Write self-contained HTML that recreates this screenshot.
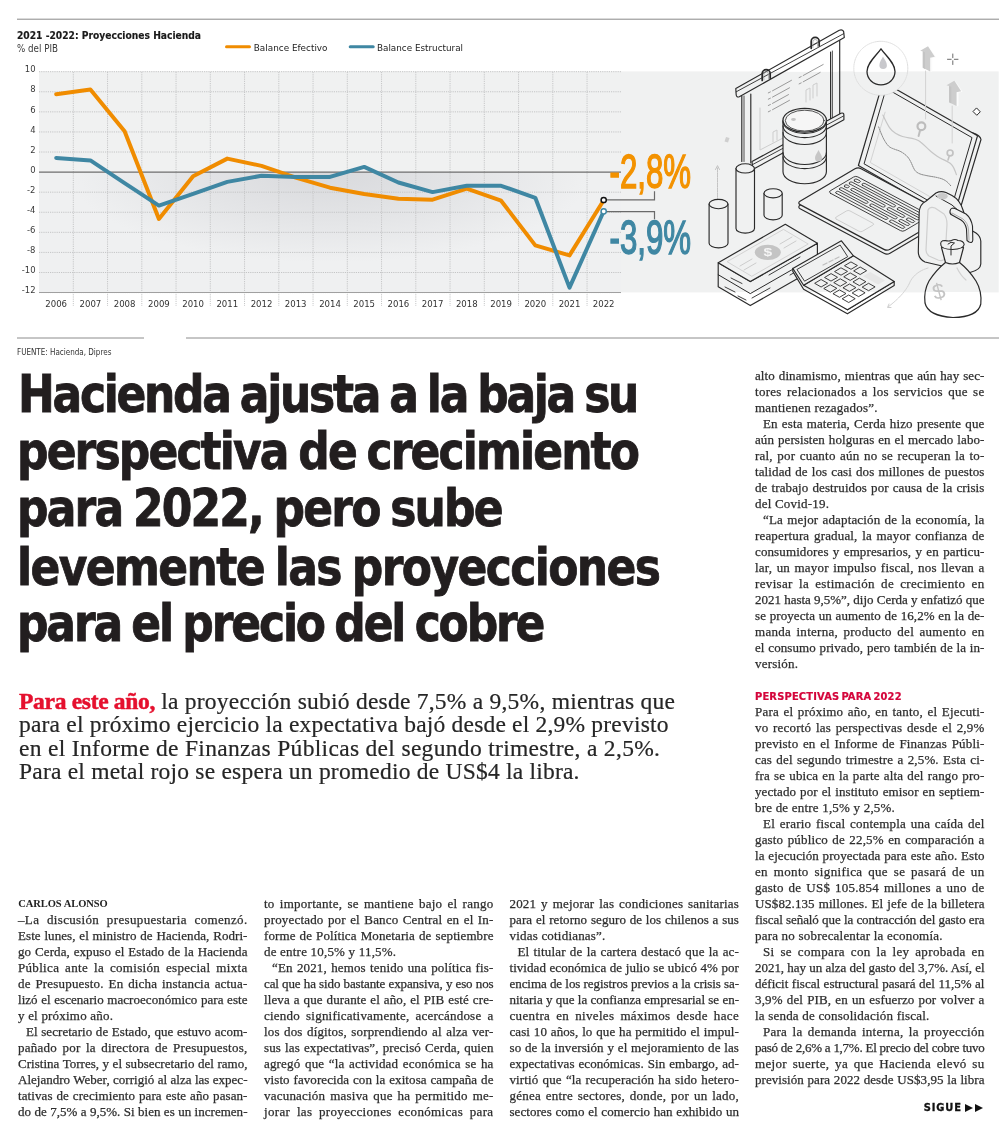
<!DOCTYPE html>
<html><head><meta charset="utf-8"><title>Hacienda</title><style>
*{margin:0;padding:0;box-sizing:border-box}
html,body{width:1000px;height:1145px;overflow:hidden;background:#fff}
body{position:relative}
.chart{position:absolute;left:0;top:0}
.hl{position:absolute;white-space:nowrap;font:bold 52px 'DejaVu Sans Condensed', 'DejaVu Sans', sans-serif;line-height:52px;color:#221e1f;-webkit-text-stroke:0.8px #221e1f;word-spacing:-3.0px;transform:scaleX(0.94);transform-origin:0 0}
.deck{position:absolute;white-space:nowrap;font:23.50px 'Liberation Serif', 'DejaVu Serif', serif;line-height:27.025px;color:#262626;-webkit-text-stroke:0.2px #262626}
.deck .red{color:#e5102e;font-weight:bold;letter-spacing:-0.30px;-webkit-text-stroke:0.5px #e5102e}
.bj,.bl{position:absolute;white-space:nowrap;font:13.00px 'Liberation Serif', 'DejaVu Serif', serif;line-height:16px;color:#2e2e2e;-webkit-text-stroke:0.25px #2e2e2e}
.bj{text-align:justify;text-align-last:justify}
.bl{text-align:left}
.byline{position:absolute;left:18.2px;top:898px;font:bold 10.5px 'Liberation Serif', 'DejaVu Serif', serif;color:#222;letter-spacing:-0.05px;line-height:12px;white-space:nowrap}
.fuente{position:absolute;left:17px;top:347.6px;font:8px 'DejaVu Sans Condensed', 'DejaVu Sans', sans-serif;color:#333;letter-spacing:0px;white-space:nowrap;line-height:9px}
.sub{position:absolute;left:755px;top:691.2px;font:bold 11px 'DejaVu Sans Condensed', 'DejaVu Sans', sans-serif;color:#d4053b;white-space:nowrap;line-height:12px;letter-spacing:0.18px;word-spacing:-1.5px;-webkit-text-stroke:0.2px #d4053b}
.sigue{position:absolute;left:923.8px;top:1102px;font:bold 11px 'DejaVu Sans Condensed', 'DejaVu Sans', sans-serif;color:#111;white-space:nowrap;line-height:12px;letter-spacing:0.85px;-webkit-text-stroke:0.3px #111}
.tri{position:absolute;top:1103.5px;width:0;height:0;border-top:4px solid transparent;border-bottom:4px solid transparent;border-left:8.5px solid #111}
</style></head><body>
<svg class="chart" width="1000" height="345" viewBox="0 0 1000 345">
<defs>
<radialGradient id="neg" cx="0.5" cy="0" r="0.75" gradientTransform="translate(0.5 0) scale(0.6 1) translate(-0.5 0)">
<stop offset="0" stop-color="#d8d9dc"/><stop offset="0.55" stop-color="#e4e5e7"/><stop offset="1" stop-color="#eff0f1"/>
</radialGradient>
</defs>
<rect x="39" y="71.4" width="959.7" height="221" fill="#f0f1f1"/>
<rect x="39" y="172" width="582" height="120.5" fill="url(#neg)"/>
<line x1="17" y1="19.2" x2="999" y2="19.2" stroke="#888" stroke-width="1"/>
<line x1="17" y1="338" x2="144" y2="338" stroke="#8c8c8c" stroke-width="1"/>
<line x1="186" y1="338" x2="999" y2="338" stroke="#8c8c8c" stroke-width="1"/>
<line x1="39" y1="71.70" x2="621" y2="71.70" stroke="#c4c5c6" stroke-width="1" stroke-dasharray="1.2 1"/>
<line x1="39" y1="91.78" x2="621" y2="91.78" stroke="#c4c5c6" stroke-width="1" stroke-dasharray="1.2 1"/>
<line x1="39" y1="111.86" x2="621" y2="111.86" stroke="#c4c5c6" stroke-width="1" stroke-dasharray="1.2 1"/>
<line x1="39" y1="131.94" x2="621" y2="131.94" stroke="#c4c5c6" stroke-width="1" stroke-dasharray="1.2 1"/>
<line x1="39" y1="152.02" x2="621" y2="152.02" stroke="#c4c5c6" stroke-width="1" stroke-dasharray="1.2 1"/>
<line x1="39" y1="192.18" x2="621" y2="192.18" stroke="#c4c5c6" stroke-width="1" stroke-dasharray="1.2 1"/>
<line x1="39" y1="212.26" x2="621" y2="212.26" stroke="#c4c5c6" stroke-width="1" stroke-dasharray="1.2 1"/>
<line x1="39" y1="232.34" x2="621" y2="232.34" stroke="#c4c5c6" stroke-width="1" stroke-dasharray="1.2 1"/>
<line x1="39" y1="252.42" x2="621" y2="252.42" stroke="#c4c5c6" stroke-width="1" stroke-dasharray="1.2 1"/>
<line x1="39" y1="272.50" x2="621" y2="272.50" stroke="#c4c5c6" stroke-width="1" stroke-dasharray="1.2 1"/>
<line x1="39" y1="292.58" x2="621" y2="292.58" stroke="#c4c5c6" stroke-width="1" stroke-dasharray="1.2 1"/>
<line x1="73.30" y1="72" x2="73.30" y2="306" stroke="#c6c7c8" stroke-width="1" stroke-dasharray="1.2 1"/>
<line x1="107.55" y1="72" x2="107.55" y2="306" stroke="#c6c7c8" stroke-width="1" stroke-dasharray="1.2 1"/>
<line x1="141.80" y1="72" x2="141.80" y2="306" stroke="#c6c7c8" stroke-width="1" stroke-dasharray="1.2 1"/>
<line x1="176.05" y1="72" x2="176.05" y2="306" stroke="#c6c7c8" stroke-width="1" stroke-dasharray="1.2 1"/>
<line x1="210.30" y1="72" x2="210.30" y2="306" stroke="#c6c7c8" stroke-width="1" stroke-dasharray="1.2 1"/>
<line x1="244.55" y1="72" x2="244.55" y2="306" stroke="#c6c7c8" stroke-width="1" stroke-dasharray="1.2 1"/>
<line x1="278.80" y1="72" x2="278.80" y2="306" stroke="#c6c7c8" stroke-width="1" stroke-dasharray="1.2 1"/>
<line x1="313.05" y1="72" x2="313.05" y2="306" stroke="#c6c7c8" stroke-width="1" stroke-dasharray="1.2 1"/>
<line x1="347.30" y1="72" x2="347.30" y2="306" stroke="#c6c7c8" stroke-width="1" stroke-dasharray="1.2 1"/>
<line x1="381.55" y1="72" x2="381.55" y2="306" stroke="#c6c7c8" stroke-width="1" stroke-dasharray="1.2 1"/>
<line x1="415.80" y1="72" x2="415.80" y2="306" stroke="#c6c7c8" stroke-width="1" stroke-dasharray="1.2 1"/>
<line x1="450.05" y1="72" x2="450.05" y2="306" stroke="#c6c7c8" stroke-width="1" stroke-dasharray="1.2 1"/>
<line x1="484.30" y1="72" x2="484.30" y2="306" stroke="#c6c7c8" stroke-width="1" stroke-dasharray="1.2 1"/>
<line x1="518.55" y1="72" x2="518.55" y2="306" stroke="#c6c7c8" stroke-width="1" stroke-dasharray="1.2 1"/>
<line x1="552.80" y1="72" x2="552.80" y2="306" stroke="#c6c7c8" stroke-width="1" stroke-dasharray="1.2 1"/>
<line x1="587.05" y1="72" x2="587.05" y2="306" stroke="#c6c7c8" stroke-width="1" stroke-dasharray="1.2 1"/>
<line x1="39" y1="172.1" x2="621" y2="172.1" stroke="#6e6e6e" stroke-width="1.3"/>
<line x1="39" y1="292.5" x2="621" y2="292.5" stroke="#a0a0a0" stroke-width="1"/>
<text x="35.5" y="72.3" text-anchor="end" font-family="DejaVu Sans Condensed, DejaVu Sans, sans-serif" font-size="9.4" fill="#3a3a3a">10</text>
<text x="35.5" y="92.4" text-anchor="end" font-family="DejaVu Sans Condensed, DejaVu Sans, sans-serif" font-size="9.4" fill="#3a3a3a">8</text>
<text x="35.5" y="112.5" text-anchor="end" font-family="DejaVu Sans Condensed, DejaVu Sans, sans-serif" font-size="9.4" fill="#3a3a3a">6</text>
<text x="35.5" y="132.5" text-anchor="end" font-family="DejaVu Sans Condensed, DejaVu Sans, sans-serif" font-size="9.4" fill="#3a3a3a">4</text>
<text x="35.5" y="152.6" text-anchor="end" font-family="DejaVu Sans Condensed, DejaVu Sans, sans-serif" font-size="9.4" fill="#3a3a3a">2</text>
<text x="35.5" y="172.7" text-anchor="end" font-family="DejaVu Sans Condensed, DejaVu Sans, sans-serif" font-size="9.4" fill="#3a3a3a">0</text>
<text x="35.5" y="192.8" text-anchor="end" font-family="DejaVu Sans Condensed, DejaVu Sans, sans-serif" font-size="9.4" fill="#3a3a3a">-2</text>
<text x="35.5" y="212.9" text-anchor="end" font-family="DejaVu Sans Condensed, DejaVu Sans, sans-serif" font-size="9.4" fill="#3a3a3a">-4</text>
<text x="35.5" y="232.9" text-anchor="end" font-family="DejaVu Sans Condensed, DejaVu Sans, sans-serif" font-size="9.4" fill="#3a3a3a">-6</text>
<text x="35.5" y="253.0" text-anchor="end" font-family="DejaVu Sans Condensed, DejaVu Sans, sans-serif" font-size="9.4" fill="#3a3a3a">-8</text>
<text x="35.5" y="273.1" text-anchor="end" font-family="DejaVu Sans Condensed, DejaVu Sans, sans-serif" font-size="9.4" fill="#3a3a3a">-10</text>
<text x="35.5" y="293.2" text-anchor="end" font-family="DejaVu Sans Condensed, DejaVu Sans, sans-serif" font-size="9.4" fill="#3a3a3a">-12</text>
<text x="56.2" y="307.3" text-anchor="middle" font-family="DejaVu Sans Condensed, DejaVu Sans, sans-serif" font-size="9.5" fill="#333">2006</text>
<text x="90.4" y="307.3" text-anchor="middle" font-family="DejaVu Sans Condensed, DejaVu Sans, sans-serif" font-size="9.5" fill="#333">2007</text>
<text x="124.6" y="307.3" text-anchor="middle" font-family="DejaVu Sans Condensed, DejaVu Sans, sans-serif" font-size="9.5" fill="#333">2008</text>
<text x="158.9" y="307.3" text-anchor="middle" font-family="DejaVu Sans Condensed, DejaVu Sans, sans-serif" font-size="9.5" fill="#333">2009</text>
<text x="193.1" y="307.3" text-anchor="middle" font-family="DejaVu Sans Condensed, DejaVu Sans, sans-serif" font-size="9.5" fill="#333">2010</text>
<text x="227.3" y="307.3" text-anchor="middle" font-family="DejaVu Sans Condensed, DejaVu Sans, sans-serif" font-size="9.5" fill="#333">2011</text>
<text x="261.5" y="307.3" text-anchor="middle" font-family="DejaVu Sans Condensed, DejaVu Sans, sans-serif" font-size="9.5" fill="#333">2012</text>
<text x="295.7" y="307.3" text-anchor="middle" font-family="DejaVu Sans Condensed, DejaVu Sans, sans-serif" font-size="9.5" fill="#333">2013</text>
<text x="330.0" y="307.3" text-anchor="middle" font-family="DejaVu Sans Condensed, DejaVu Sans, sans-serif" font-size="9.5" fill="#333">2014</text>
<text x="364.2" y="307.3" text-anchor="middle" font-family="DejaVu Sans Condensed, DejaVu Sans, sans-serif" font-size="9.5" fill="#333">2015</text>
<text x="398.4" y="307.3" text-anchor="middle" font-family="DejaVu Sans Condensed, DejaVu Sans, sans-serif" font-size="9.5" fill="#333">2016</text>
<text x="432.6" y="307.3" text-anchor="middle" font-family="DejaVu Sans Condensed, DejaVu Sans, sans-serif" font-size="9.5" fill="#333">2017</text>
<text x="466.8" y="307.3" text-anchor="middle" font-family="DejaVu Sans Condensed, DejaVu Sans, sans-serif" font-size="9.5" fill="#333">2018</text>
<text x="501.1" y="307.3" text-anchor="middle" font-family="DejaVu Sans Condensed, DejaVu Sans, sans-serif" font-size="9.5" fill="#333">2019</text>
<text x="535.3" y="307.3" text-anchor="middle" font-family="DejaVu Sans Condensed, DejaVu Sans, sans-serif" font-size="9.5" fill="#333">2020</text>
<text x="569.5" y="307.3" text-anchor="middle" font-family="DejaVu Sans Condensed, DejaVu Sans, sans-serif" font-size="9.5" fill="#333">2021</text>
<text x="603.7" y="307.3" text-anchor="middle" font-family="DejaVu Sans Condensed, DejaVu Sans, sans-serif" font-size="9.5" fill="#333">2022</text>
<polyline points="56.2,94.2 90.4,89.5 124.6,131.2 158.9,219.0 193.1,176.2 227.3,158.6 261.5,165.9 295.7,177.7 330.0,187.7 364.2,194.0 398.4,198.8 432.6,199.7 466.8,188.7 501.1,200.7 535.3,245.4 569.5,255.4 603.7,200.2" fill="none" stroke="#f08c00" stroke-width="4" stroke-linejoin="round" stroke-linecap="round"/>
<polyline points="56.2,157.9 90.4,160.4 124.6,183.1 158.9,205.6 193.1,193.8 227.3,181.9 261.5,175.8 295.7,176.9 330.0,176.9 364.2,166.9 398.4,182.5 432.6,192.1 466.8,185.8 501.1,185.8 535.3,197.8 569.5,287.6 603.7,211.3" fill="none" stroke="#3f87a3" stroke-width="4" stroke-linejoin="round" stroke-linecap="round"/>
<polyline points="606,199.8 654.5,199.8 654.5,191.2" fill="none" stroke="#6a6a6a" stroke-width="1.2"/>
<polyline points="606,211.6 654.5,211.6 654.5,219.2" fill="none" stroke="#6a6a6a" stroke-width="1.2"/>
<circle cx="603.7" cy="200" r="2.6" fill="#fff" stroke="#111" stroke-width="1.5"/>
<circle cx="603.7" cy="211.3" r="2.6" fill="#fff" stroke="#3f87a3" stroke-width="1.5"/>
<text x="17" y="39.4" font-family="DejaVu Sans Condensed, DejaVu Sans, sans-serif" font-weight="bold" font-size="10.4" fill="#1a1a1a" stroke="#1a1a1a" stroke-width="0.15" textLength="184" lengthAdjust="spacingAndGlyphs">2021 -2022: Proyecciones Hacienda</text>
<text x="17" y="52.3" font-family="DejaVu Sans Condensed, DejaVu Sans, sans-serif" font-size="9.6" fill="#3a3a3a" textLength="41" lengthAdjust="spacingAndGlyphs">% del PIB</text>
<line x1="226.5" y1="46.8" x2="249.5" y2="46.8" stroke="#f08c00" stroke-width="3" stroke-linecap="round"/>
<text x="253.8" y="50.5" font-family="DejaVu Sans Condensed, DejaVu Sans, sans-serif" font-size="9.4" fill="#222" textLength="73.7" lengthAdjust="spacingAndGlyphs">Balance Efectivo</text>
<line x1="350.2" y1="46.8" x2="373.2" y2="46.8" stroke="#3f87a3" stroke-width="3" stroke-linecap="round"/>
<text x="377" y="50.5" font-family="DejaVu Sans Condensed, DejaVu Sans, sans-serif" font-size="9.4" fill="#222" textLength="86" lengthAdjust="spacingAndGlyphs">Balance Estructural</text>
<text x="609.5" y="187.6" font-family="Liberation Sans, sans-serif" font-size="48.5" fill="#f39200" stroke="#f39200" stroke-width="1.5" textLength="81.5" lengthAdjust="spacingAndGlyphs">-2,8%</text>
<text x="609.5" y="254.2" font-family="Liberation Sans, sans-serif" font-size="48.5" fill="#3f87a3" stroke="#3f87a3" stroke-width="1.5" textLength="81.5" lengthAdjust="spacingAndGlyphs">-3,9%</text>
<defs><linearGradient id="bgf" gradientUnits="userSpaceOnUse" x1="0" y1="0" x2="0" y2="345"><stop offset="0" stop-color="#fff"/><stop offset="0.2072" stop-color="#fff"/><stop offset="0.2075" stop-color="#f0f1f1"/><stop offset="0.8475" stop-color="#f0f1f1"/><stop offset="0.8478" stop-color="#fff"/><stop offset="1" stop-color="#fff"/></linearGradient></defs>
<g fill="url(#bgf)" stroke="#2a2a2a" stroke-width="1.15" stroke-linejoin="round" stroke-linecap="round">
<polygon points="744,96 838,43 838,116 751,163" stroke="none"/>
<g fill="none" stroke="#cdcdcd" stroke-width="1"><polyline points="760,108 760,150 783,138"/><polyline points="773,142 773,132 777,130 777,140"/><polyline points="806,102 806,90 810,88 810,100"/><polyline points="813,98 813,85 817,83 817,96"/></g>
<g fill="none" stroke="#9a9a9a" stroke-width="1">
<line x1="768.3" y1="92.9" x2="770.4" y2="91.9"/>
<line x1="772.5" y1="90.8" x2="791.5" y2="80.3"/>
<line x1="768.3" y1="99.2" x2="770.4" y2="98.2"/>
<line x1="772.5" y1="97.1" x2="789.5" y2="87.8"/>
<line x1="768.3" y1="105.5" x2="770.4" y2="104.5"/>
<line x1="772.5" y1="103.4" x2="788.5" y2="94.6"/>
<line x1="768.3" y1="111.8" x2="770.4" y2="110.8"/>
<line x1="772.5" y1="109.7" x2="789.5" y2="100.3"/>
<line x1="799.1" y1="77.6" x2="801.2" y2="76.6"/>
<line x1="803.2" y1="75.5" x2="823.2" y2="64.5"/>
<line x1="799.1" y1="83.9" x2="801.2" y2="82.9"/>
<line x1="803.2" y1="81.8" x2="820.2" y2="72.4"/>
</g>
<line x1="741.8" y1="96" x2="741.8" y2="161.5"/>
<line x1="744" y1="96" x2="744" y2="161.5" stroke-width="0.8"/>
<line x1="750.8" y1="94" x2="750.8" y2="163"/>
<line x1="830.6" y1="52" x2="830.6" y2="120"/>
<line x1="832.4" y1="51" x2="832.4" y2="119" stroke-width="0.8"/>
<line x1="839.7" y1="40" x2="839.7" y2="114.5"/>
<path d="M752,161.5 L841,113.2 Q843.8,112.5 843.9,115 L843.9,119.8 L755,168.2 Q752.6,169 752.5,166.5 Z"/>
<line x1="752.5" y1="164.6" x2="843.5" y2="116" stroke-width="0.9"/>
<path d="M735.8,88.6 L839.3,30.2 Q842.2,29 843.6,31.4 L844.3,37.5 L739.3,96.8 Q736.5,97.6 736.2,95 Z"/>
<line x1="736.2" y1="91.8" x2="843.8" y2="33.6" stroke-width="0.9"/>
<path d="M762.2,80.5 V73.6 A4,4 0 0 1 770.2,73.6 V78.2" fill="none" stroke-width="1.7"/>
<path d="M811.2,48.3 V41.4 A4,4 0 0 1 819.2,41.4 V46" fill="none" stroke-width="1.7"/>
<path d="M763.9,80 V74 A2.3,2.3 0 0 1 768.5,74 V78.6" fill="none" stroke="#999" stroke-width="0.7"/>
<path d="M812.9,47.8 V41.8 A2.3,2.3 0 0 1 817.5,41.8 V46.4" fill="none" stroke="#999" stroke-width="0.7"/>
<polygon points="928.4,45.6 936.2,57.2 932.2,58.2 932.2,71.2 930.4,72.0 930.4,57.2 934.6,56.6" fill="#fbfbfb" stroke="none"/>
<polygon points="928.0,46.2 920.2,50.8 922.8,51.6 922.8,67.8 930.2,71.4 930.2,57.7 934.8,56.8" fill="#cdcdcd" stroke="none"/>
<polygon points="922.8,51.6 922.8,67.8 925.0,68.9 925.0,52.2" fill="#c4c4c4" stroke="none"/>
<polygon points="954.7,80.1 962.5,91.7 958.5,92.7 958.5,105.7 956.7,106.5 956.7,91.7 960.9,91.1" fill="#fbfbfb" stroke="none"/>
<polygon points="954.3,80.7 946.5,85.3 949.1,86.1 949.1,102.3 956.5,105.9 956.5,92.2 961.1,91.3" fill="#cdcdcd" stroke="none"/>
<polygon points="949.1,86.1 949.1,102.3 951.3,103.4 951.3,86.7" fill="#c4c4c4" stroke="none"/>
<g stroke="#5a5a5a" stroke-width="0.9"><line x1="947.5" y1="59.3" x2="951.2" y2="59.3"/><line x1="954.3" y1="59.3" x2="958" y2="59.3"/><line x1="952.8" y1="54" x2="952.8" y2="57.7"/><line x1="952.8" y1="60.8" x2="952.8" y2="64.5"/></g>
<polygon points="976.8,108.2 980.3,111.8 976.8,115.3 973.3,111.8" fill="#fff" stroke-width="1"/>
<polygon points="726,137 729.5,138 728,142.5 724.5,141.5" fill="#cfcfcf" stroke="none"/>
<path d="M972,132.6 Q980.5,135.5 981,139.5 L958.6,214 L952,220" stroke-width="1.15"/>
<polygon points="883.0,81.7 977.5,135.8 952.9,219.6 858.4,165.5" stroke-width="1.2"/>
<polygon points="886.5,88.6 972.0,137.6 949.9,213.0 864.4,164.0" fill="none" stroke-width="1"/>
<polyline points="885.1,112.2 870.3,162.5 945.9,205.8" fill="none" stroke="#cfcfcf" stroke-width="0.9"/>
<path d="M882.9,115.1 Q887.0,124.0 889.5,127.6 Q892.0,131.2 895.5,133.3 Q899.0,135.5 902.5,136.5 Q906.0,137.5 909.0,137.8 Q912.0,138.2 915.3,139.2 Q918.6,140.3 920.8,142.2 Q923.0,144.0 925.7,146.7 Q928.4,149.4 931.2,151.7 Q934.0,154.0 936.8,155.9 Q939.6,157.8 942.3,159.1 Q945.0,160.3 947.9,161.9 Q950.8,163.4 952.4,165.7 Q954.0,168.0 955.2,171.3 L956.4,174.6" fill="none" stroke="#c6c6c6" stroke-width="1.2"/>
<path d="M878.7,127.0 Q882.0,136.0 884.2,139.9 Q886.4,143.8 888.2,145.7 Q890.0,147.5 892.4,148.4 Q894.8,149.4 897.4,150.2 Q900.0,151.0 903.0,153.0 Q906.0,155.0 907.5,156.8 Q909.0,158.5 910.3,160.9 Q911.6,163.4 912.5,165.7 Q913.5,168.0 914.6,169.9 Q915.8,171.8 918.4,173.2 Q921.0,174.5 924.7,175.2 Q928.4,176.0 931.7,176.5 Q935.0,177.0 938.7,177.9 Q942.4,178.8 944.7,180.2 Q947.0,181.5 948.9,183.7 L950.8,185.8" fill="none" stroke="#6e6e6e" stroke-width="0.9" stroke-dasharray="0.9 1.1"/>
<circle cx="880.8" cy="68.3" r="27" fill="url(#bgf)" stroke="#dadada" stroke-width="0.9" stroke-dasharray="1.2 1"/>
<path d="M881,48.8 C876,56 867,63 867,71.5 A14,13.4 0 0 0 895,71.5 C895,63 886,56 881,48.8 Z" fill="url(#bgf)" stroke-width="1.3"/>
<path d="M883,56.6 C881.5,59.5 879.4,62.3 879.4,65.2 A3.75,3.8 0 0 0 886.9,65.2 C886.9,62.3 884.5,59.5 883,56.6 Z" fill="#c8c8cc" stroke="none"/>
<line x1="925.6" y1="71" x2="925.6" y2="119" stroke="#d2d2d2" stroke-width="1"/>
<line x1="952.2" y1="106" x2="952.2" y2="143" stroke="#d2d2d2" stroke-width="1"/>
<circle cx="921.4" cy="126.3" r="3.9" fill="none" stroke="#bdbdbd" stroke-width="2.2"/><line x1="920" y1="130.5" x2="918.6" y2="136" stroke="#bdbdbd" stroke-width="2"/>
<circle cx="950.1" cy="152.9" r="2.9" fill="none" stroke="#c2c2c2" stroke-width="1.7"/><line x1="949.3" y1="156" x2="948" y2="160" stroke="#c2c2c2" stroke-width="1.6"/>
<path d="M783.0,120.2 L783.0,171.8 A21.7,11.9 0 0 0 826.4,171.8 L826.4,120.2 Z"/>
<path d="M783.0,121.5 A21.7,11.9 0 0 0 826.4,121.5" fill="none" stroke-width="1.05"/>
<path d="M783.0,125.7 A21.7,11.9 0 0 0 826.4,125.7" fill="none" stroke-width="1.05"/>
<path d="M783.0,132.6 A21.7,11.9 0 0 0 826.4,132.6" fill="none" stroke-width="1.05"/>
<path d="M783.0,152.6 A21.7,11.9 0 0 0 826.4,152.6" fill="none" stroke-width="1.05"/>
<path d="M783.0,156.7 A21.7,11.9 0 0 0 826.4,156.7" fill="none" stroke-width="1.05"/>
<ellipse cx="804.7" cy="120.2" rx="21.7" ry="11.9" stroke-width="1.2"/>
<ellipse cx="804.7" cy="120.6" rx="19.4" ry="10.4" fill="#f6f6f6" stroke-width="0.8"/>
<ellipse cx="793.5" cy="119.5" rx="2.4" ry="1.4" fill="#c4c4c4" stroke="none"/>
<path d="M818.5,150 C817,153 815,155.5 815,158 A3.5,3.5 0 0 0 822,158 C822,155.5 820,153 818.5,150 Z" fill="#c6c6c6" stroke="none"/>
<rect x="0" y="0" width="102.0" height="70.8" rx="3.5" transform="matrix(0.8824 0.4706 0.8612 -0.5083 797.00 207.00)" fill="#f0f1f1" stroke-width="1.15" vector-effect="non-scaling-stroke"/>
<rect x="0" y="0" width="102.0" height="70.8" rx="3.5" transform="matrix(0.8824 0.4706 0.8612 -0.5083 797.00 203.00)" fill="#f0f1f1" stroke-width="1.2" vector-effect="non-scaling-stroke"/>
<g transform="matrix(0.8824 0.4706 0.8612 -0.5083 797.00 203.00)" fill="none">
<rect x="7.5" y="28.5" width="84.5" height="32" rx="2.5" stroke-width="0.9" vector-effect="non-scaling-stroke"/>
<rect x="10.5" y="54.5" width="6.0" height="3.1" rx="1.4" stroke-width="0.85" vector-effect="non-scaling-stroke"/>
<rect x="19.5" y="54.5" width="69.5" height="3.1" rx="1.4" stroke-width="0.85" vector-effect="non-scaling-stroke"/>
<rect x="10.5" y="48.8" width="51.5" height="3.1" rx="1.4" stroke-width="0.85" vector-effect="non-scaling-stroke"/>
<rect x="65.0" y="48.8" width="24.0" height="3.1" rx="1.4" stroke-width="0.85" vector-effect="non-scaling-stroke"/>
<rect x="10.5" y="43.1" width="4.5" height="3.1" rx="1.4" stroke-width="0.85" vector-effect="non-scaling-stroke"/>
<rect x="18.0" y="43.1" width="38.0" height="3.1" rx="1.4" stroke-width="0.85" vector-effect="non-scaling-stroke"/>
<rect x="59.0" y="43.1" width="19.0" height="3.1" rx="1.4" stroke-width="0.85" vector-effect="non-scaling-stroke"/>
<rect x="81.0" y="43.1" width="8.0" height="3.1" rx="1.4" stroke-width="0.85" vector-effect="non-scaling-stroke"/>
<rect x="10.5" y="37.4" width="31.5" height="3.1" rx="1.4" stroke-width="0.85" vector-effect="non-scaling-stroke"/>
<rect x="45.0" y="37.4" width="30.0" height="3.1" rx="1.4" stroke-width="0.85" vector-effect="non-scaling-stroke"/>
<rect x="78.0" y="37.4" width="11.0" height="3.1" rx="1.4" stroke-width="0.85" vector-effect="non-scaling-stroke"/>
<rect x="12.0" y="31.7" width="58.0" height="3.1" rx="1.4" stroke-width="0.85" vector-effect="non-scaling-stroke"/>
<rect x="73.0" y="31.7" width="16.0" height="3.1" rx="1.4" stroke-width="0.85" vector-effect="non-scaling-stroke"/>
<rect x="37.5" y="5" width="30" height="16" rx="2" stroke="#cacaca" stroke-width="0.9" vector-effect="non-scaling-stroke"/>
</g>
<path d="M736.0,168.4 L736.0,228.5 A9.2,4.6 0 0 0 754.5,228.5 L754.5,168.4 Z"/>
<ellipse cx="745.2" cy="168.4" rx="9.2" ry="4.6"/>
<path d="M764.0,193.3 L764.0,215.2 A9.1,4.6 0 0 0 782.2,215.2 L782.2,193.3 Z"/>
<ellipse cx="773.1" cy="193.3" rx="9.1" ry="4.6"/>
<line x1="717.5" y1="168" x2="717.5" y2="199" stroke="#c2c2c2" stroke-width="1" stroke-dasharray="1.5 1"/>
<polyline points="715.5,169.5 717.5,165.6 719.5,169.5" fill="none" stroke="#c2c2c2" stroke-width="1"/>
<path d="M709.1,204.0 L709.1,243.2 A9.4,4.7 0 0 0 728.0,243.2 L728.0,204.0 Z"/>
<ellipse cx="718.5" cy="204.0" rx="9.4" ry="4.7"/>
<path d="M925.5,201.5 Q920,204 919.2,212 L918.3,252 Q918.5,259 925,262 L970,272.5 Q980.5,270 980.8,264 L980.8,241 Q980.3,236 976,233 L969,229 L963,210 Q960,200 952,195.5 L946,192.5 Q941,190.5 936,193 Z" stroke-width="1.15"/>
<path d="M928,210 Q930,206 935,208 L944,214 Q947,218 947,224 L945,258 Q943,262 938,260 L929,256 Q926,254 926,250 Z" fill="none" stroke="#cfcfcf" stroke-width="1.2"/>
<path d="M936,196 L952,205 Q958,209 962,216" fill="none" stroke-width="1"/>
<ellipse cx="942.4" cy="196.2" rx="5.3" ry="3.3" fill="#c9c9c9" stroke="none"/>
<path d="M950,211 Q951,207 955,208.5 L966,214 Q971,218 972.5,226 L972.8,240 Q972.5,243.5 969,242 L967,240.5 L966.5,229 Q965.5,223 961,220 L952,215 Q949.5,214 950,211 Z" stroke-width="1.1"/>
<path d="M952,213 L963,219 Q968,223 968.5,230 L969,240" fill="none" stroke="#9a9a9a" stroke-width="0.8"/>
<path d="M718.2,262.7 L750.3,281.6 L817.4,243.2 L817.4,267.2 L750.3,305.6 L718.2,286.7 Z" stroke-width="1.15"/>
<polygon points="718.2,262.7 785.3,224.3 817.4,243.2 750.3,281.6" stroke-width="1.15"/>
<polyline points="718.2,274.7 750.3,293.6 817.4,255.2" fill="none" stroke-width="1"/>
<g fill="none" stroke-width="0.9"><line x1="731" y1="278" x2="742" y2="283.5"/><line x1="725" y1="287" x2="735" y2="292"/><line x1="738" y1="296" x2="746" y2="300"/><line x1="769" y1="275" x2="800" y2="257"/><line x1="752" y1="298" x2="770" y2="288"/><line x1="790" y1="275" x2="808" y2="265"/></g>
<polygon points="727.4,261.9 751.8,276.3 808.2,244.0 783.8,229.6" fill="none" stroke="#cfcfcf" stroke-width="0.9"/>
<ellipse cx="767.8" cy="252.3" rx="13" ry="7.6" fill="#c4c4c4" stroke="none"/>
<text x="767.8" y="256.6" text-anchor="middle" font-family="Liberation Sans, sans-serif" font-weight="bold" font-size="12.5" fill="#f4f4f4" stroke="none" transform="translate(767.8 252.3) scale(1.25 0.8) translate(-767.8 -252.3)">$</text>
<g stroke="#cdcdcd" stroke-width="1" fill="none"><line x1="740" y1="266" x2="752" y2="259"/><line x1="744" y1="270" x2="756" y2="263"/><line x1="780" y1="244" x2="792" y2="237"/><line x1="784" y1="248" x2="796" y2="241"/></g>
<path d="M792.8,268.4 L792.8,271.4 L803.6,289.2 L847.4,313.8 L894.2,285.6 L894.2,281.6 L847.4,309.8 Z" stroke-width="1.15"/>
<polygon points="803.6,285.2 853.4,255.8 894.2,281.6 847.4,309.8" stroke-width="1.15"/>
<polygon points="792.8,268.4 841.4,240.8 853.4,255.8 803.6,285.2" stroke-width="1.15"/>
<polygon points="797.3,269.3 840.1,245.0 847.7,256.7 804.9,281.0" fill="none" stroke-width="0.9"/>
<g stroke="#bdbdbd" stroke-width="1.2"><line x1="823" y1="265" x2="827" y2="263"/><line x1="829" y1="262" x2="833" y2="260"/><line x1="835" y1="259" x2="839" y2="257"/></g>
<polygon points="815.0,283.5 821.1,287.0 827.6,283.2 821.4,279.7" fill="none" stroke-width="0.9"/>
<polygon points="824.1,288.7 830.3,292.2 836.8,288.3 830.6,284.9" fill="none" stroke-width="0.9"/>
<polygon points="833.3,293.9 839.5,297.3 846.0,293.5 839.8,290.1" fill="none" stroke-width="0.9"/>
<polygon points="842.5,299.0 848.7,302.5 855.2,298.7 849.0,295.2" fill="none" stroke-width="0.9"/>
<polygon points="824.9,277.7 831.0,281.1 837.5,277.3 831.4,273.8" fill="none" stroke-width="0.9"/>
<polygon points="834.1,282.8 840.2,286.3 846.7,282.5 840.6,279.0" fill="none" stroke-width="0.9"/>
<polygon points="843.3,288.0 849.4,291.4 855.9,287.6 849.8,284.2" fill="none" stroke-width="0.9"/>
<polygon points="852.5,293.2 858.6,296.6 865.1,292.8 859.0,289.3" fill="none" stroke-width="0.9"/>
<polygon points="834.9,271.8 841.0,275.2 847.5,271.4 841.3,268.0" fill="none" stroke-width="0.9"/>
<polygon points="844.1,277.0 850.2,280.4 856.7,276.6 850.5,273.1" fill="none" stroke-width="0.9"/>
<polygon points="853.3,282.1 859.4,285.6 865.9,281.7 859.7,278.3" fill="none" stroke-width="0.9"/>
<polygon points="862.5,287.3 868.6,290.7 875.1,286.9 868.9,283.5" fill="none" stroke-width="0.9"/>
<polygon points="844.8,265.9 851.0,269.3 857.4,265.5 851.3,262.1" fill="none" stroke-width="0.9"/>
<polygon points="854.0,271.1 860.2,274.5 866.6,270.7 860.5,267.2" fill="none" stroke-width="0.9"/>
<polygon points="863.2,276.2 878.1,284.6 885.1,280.5 870.2,272.1" fill="#e6e6e6" stroke="none"/>
<path d="M928,268 Q915,272 910,282 Q905,294 888,307" fill="none" stroke="#cfcfcf" stroke-width="1" stroke-dasharray="1.5 1"/>
<polyline points="891,307.5 887.5,307.5 889,304" fill="none" stroke="#cfcfcf" stroke-width="1"/>
<path d="M945.5,262.5 Q936,270 929,281 Q923.5,291 925,303 Q928,316 953,317.5 Q978,317 980.8,304 Q982,291 976,281 Q969,270 959.5,262.5 Z" stroke-width="1.2"/>
<path d="M941.5,247.5 L945.5,262.5 Q952.5,265.5 959.5,262.5 L963.5,247.5 Z" stroke-width="1.2"/>
<path d="M941,245.5 Q939.5,240.5 945,240.5 Q949,241.5 951.5,240.5 Q955,238.5 958,240.5 Q963.5,240.5 964.2,244.5 Q963.5,249 952.5,249.5 Q941.5,249 941,245.5 Z" stroke-width="1.1"/>
<path d="M948,244 Q951,241 954.5,243 L951,246 L951,255" fill="none" stroke-width="1"/>
<text x="938.5" y="299" text-anchor="middle" font-family="Liberation Sans, sans-serif" font-size="22" fill="#c4c4c4" stroke="none" transform="rotate(-15 938.5 291)">$</text>
<path d="M957,268 Q961,276 966,280" fill="none" stroke="#d0d0d0" stroke-width="1.2"/>
</g>
</svg>
<div class="hl" style="left:18.0px;top:368.01px;letter-spacing:-2.426px">Hacienda ajusta a la baja su</div>
<div class="hl" style="left:17.0px;top:425.31px;letter-spacing:-1.969px">perspectiva de crecimiento</div>
<div class="hl" style="left:17.0px;top:482.01px;letter-spacing:-1.931px">para 2022, pero sube</div>
<div class="hl" style="left:17.0px;top:540.61px;letter-spacing:-1.690px">levemente las proyecciones</div>
<div class="hl" style="left:17.0px;top:597.21px;letter-spacing:-2.263px">para el precio del cobre</div>
<div class="deck" style="left:19px;top:688.22px;letter-spacing:0.238px"><span class="red">Para este año,</span> la proyección subió desde 7,5% a 9,5%, mientras que</div>
<div class="deck" style="left:19px;top:711.42px;letter-spacing:0.198px">para el próximo ejercicio la expectativa bajó desde el 2,9% previsto</div>
<div class="deck" style="left:19px;top:734.62px;letter-spacing:0.318px">en el Informe de Finanzas Públicas del segundo trimestre, a 2,5%.</div>
<div class="deck" style="left:19px;top:757.62px;letter-spacing:0.216px">Para el metal rojo se espera un promedio de US$4 la libra.</div>
<div class="bj" style="left:18.0px;top:911.89px;width:229.5px;letter-spacing:0.350px;">–La discusión presupuestaria comenzó.</div>
<div class="bj" style="left:18.0px;top:927.89px;width:229.5px;letter-spacing:0.067px;">Este lunes, el ministro de Hacienda, Rodri-</div>
<div class="bj" style="left:18.0px;top:943.89px;width:229.5px;letter-spacing:0.089px;">go Cerda, expuso el Estado de la Hacienda</div>
<div class="bj" style="left:18.0px;top:959.89px;width:229.5px;letter-spacing:0.317px;">Pública ante la comisión especial mixta</div>
<div class="bj" style="left:18.0px;top:975.89px;width:229.5px;letter-spacing:0.179px;">de Presupuesto. En dicha instancia actua-</div>
<div class="bj" style="left:18.0px;top:991.89px;width:229.5px;letter-spacing:0.039px;">lizó el escenario macroeconómico para este</div>
<div class="bl" style="left:18.0px;top:1007.89px;width:229.5px;letter-spacing:0.2px;">y el próximo año.</div>
<div class="bj" style="left:26.0px;top:1023.89px;width:221.5px;letter-spacing:0.048px;">El secretario de Estado, que estuvo acom-</div>
<div class="bj" style="left:18.0px;top:1039.89px;width:229.5px;letter-spacing:0.249px;">pañado por la directora de Presupuestos,</div>
<div class="bj" style="left:18.0px;top:1055.89px;width:229.5px;letter-spacing:0.028px;">Cristina Torres, y el subsecretario del ramo,</div>
<div class="bj" style="left:18.0px;top:1071.89px;width:229.5px;letter-spacing:0.016px;">Alejandro Weber, corrigió al alza las expec-</div>
<div class="bj" style="left:18.0px;top:1087.89px;width:229.5px;letter-spacing:0.085px;">tativas de crecimiento para este año pasan-</div>
<div class="bj" style="left:18.0px;top:1103.89px;width:229.5px;letter-spacing:0.025px;">do de 7,5% a 9,5%. Si bien es un incremen-</div>
<div class="bj" style="left:264.0px;top:895.89px;width:229.5px;letter-spacing:0.263px;">to importante, se mantiene bajo el rango</div>
<div class="bj" style="left:264.0px;top:911.89px;width:229.5px;letter-spacing:0.175px;">proyectado por el Banco Central en el In-</div>
<div class="bj" style="left:264.0px;top:927.89px;width:229.5px;letter-spacing:0.094px;">forme de Política Monetaria de septiembre</div>
<div class="bl" style="left:264.0px;top:943.89px;width:229.5px;letter-spacing:0.2px;">de entre 10,5% y 11,5%.</div>
<div class="bj" style="left:272.0px;top:959.89px;width:221.5px;letter-spacing:0.141px;">“En 2021, hemos tenido una política fis-</div>
<div class="bj" style="left:264.0px;top:975.89px;width:229.5px;letter-spacing:-0.103px;">cal que ha sido bastante expansiva, y eso nos</div>
<div class="bj" style="left:264.0px;top:991.89px;width:229.5px;letter-spacing:0.117px;">lleva a que durante el año, el PIB esté cre-</div>
<div class="bj" style="left:264.0px;top:1007.89px;width:229.5px;letter-spacing:0.212px;">ciendo significativamente, acercándose a</div>
<div class="bj" style="left:264.0px;top:1023.89px;width:229.5px;letter-spacing:0.152px;">los dos dígitos, sorprendiendo al alza ver-</div>
<div class="bj" style="left:264.0px;top:1039.89px;width:229.5px;letter-spacing:0.098px;">sus las expectativas”, precisó Cerda, quien</div>
<div class="bj" style="left:264.0px;top:1055.89px;width:229.5px;letter-spacing:0.175px;">agregó que “la actividad económica se ha</div>
<div class="bj" style="left:264.0px;top:1071.89px;width:229.5px;letter-spacing:0.078px;">visto favorecida con la exitosa campaña de</div>
<div class="bj" style="left:264.0px;top:1087.89px;width:229.5px;letter-spacing:0.209px;">vacunación masiva que ha permitido me-</div>
<div class="bj" style="left:264.0px;top:1103.89px;width:229.5px;letter-spacing:0.341px;">jorar las proyecciones económicas para</div>
<div class="bj" style="left:509.5px;top:895.89px;width:229.5px;letter-spacing:0.184px;">2021 y mejorar las condiciones sanitarias</div>
<div class="bj" style="left:509.5px;top:911.89px;width:229.5px;letter-spacing:0.074px;">para el retorno seguro de los chilenos a sus</div>
<div class="bl" style="left:509.5px;top:927.89px;width:229.5px;letter-spacing:0.2px;">vidas cotidianas”.</div>
<div class="bj" style="left:517.5px;top:943.89px;width:221.5px;letter-spacing:0.153px;">El titular de la cartera destacó que la ac-</div>
<div class="bj" style="left:509.5px;top:959.89px;width:229.5px;letter-spacing:0.047px;">tividad económica de julio se ubicó 4% por</div>
<div class="bj" style="left:509.5px;top:975.89px;width:229.5px;letter-spacing:-0.059px;">encima de los registros previos a la crisis sa-</div>
<div class="bj" style="left:509.5px;top:991.89px;width:229.5px;letter-spacing:0.003px;">nitaria y que la confianza empresarial se en-</div>
<div class="bj" style="left:509.5px;top:1007.89px;width:229.5px;letter-spacing:0.345px;">cuentra en niveles máximos desde hace</div>
<div class="bj" style="left:509.5px;top:1023.89px;width:229.5px;letter-spacing:0.089px;">casi 10 años, lo que ha permitido el impul-</div>
<div class="bj" style="left:509.5px;top:1039.89px;width:229.5px;letter-spacing:0.085px;">so de la inversión y el mejoramiento de las</div>
<div class="bj" style="left:509.5px;top:1055.89px;width:229.5px;letter-spacing:0.065px;">expectativas económicas. Sin embargo, ad-</div>
<div class="bj" style="left:509.5px;top:1071.89px;width:229.5px;letter-spacing:0.119px;">virtió que “la recuperación ha sido hetero-</div>
<div class="bj" style="left:509.5px;top:1087.89px;width:229.5px;letter-spacing:0.220px;">génea entre sectores, donde, por un lado,</div>
<div class="bj" style="left:509.5px;top:1103.89px;width:229.5px;letter-spacing:0.053px;">sectores como el comercio han exhibido un</div>
<div class="bj" style="left:755.0px;top:368.49px;width:229.5px;letter-spacing:0.093px;">alto dinamismo, mientras que aún hay sec-</div>
<div class="bj" style="left:755.0px;top:384.49px;width:229.5px;letter-spacing:0.279px;">tores relacionados a los servicios que se</div>
<div class="bl" style="left:755.0px;top:400.49px;width:229.5px;letter-spacing:0.2px;">mantienen rezagados”.</div>
<div class="bj" style="left:763.0px;top:416.49px;width:221.5px;letter-spacing:0.123px;">En esta materia, Cerda hizo presente que</div>
<div class="bj" style="left:755.0px;top:432.49px;width:229.5px;letter-spacing:0.087px;">aún persisten holguras en el mercado labo-</div>
<div class="bj" style="left:755.0px;top:448.49px;width:229.5px;letter-spacing:0.206px;">ral, por cuanto aún no se recuperan la to-</div>
<div class="bj" style="left:755.0px;top:464.49px;width:229.5px;letter-spacing:0.114px;">talidad de los casi dos millones de puestos</div>
<div class="bj" style="left:755.0px;top:480.49px;width:229.5px;letter-spacing:0.112px;">de trabajo destruidos por causa de la crisis</div>
<div class="bl" style="left:755.0px;top:496.49px;width:229.5px;letter-spacing:0.2px;">del Covid-19.</div>
<div class="bj" style="left:763.0px;top:512.49px;width:221.5px;letter-spacing:0.146px;">“La mejor adaptación de la economía, la</div>
<div class="bj" style="left:755.0px;top:528.49px;width:229.5px;letter-spacing:0.162px;">reapertura gradual, la mayor confianza de</div>
<div class="bj" style="left:755.0px;top:544.49px;width:229.5px;letter-spacing:0.116px;">consumidores y empresarios, y en particu-</div>
<div class="bj" style="left:755.0px;top:560.49px;width:229.5px;letter-spacing:0.185px;">lar, un mayor impulso fiscal, nos llevan a</div>
<div class="bj" style="left:755.0px;top:576.49px;width:229.5px;letter-spacing:0.346px;">revisar la estimación de crecimiento en</div>
<div class="bj" style="left:755.0px;top:592.49px;width:229.5px;letter-spacing:-0.021px;">2021 hasta 9,5%”, dijo Cerda y enfatizó que</div>
<div class="bj" style="left:755.0px;top:608.49px;width:229.5px;letter-spacing:0.076px;">se proyecta un aumento de 16,2% en la de-</div>
<div class="bj" style="left:755.0px;top:624.49px;width:229.5px;letter-spacing:0.272px;">manda interna, producto del aumento en</div>
<div class="bj" style="left:755.0px;top:640.49px;width:229.5px;letter-spacing:0.078px;">el consumo privado, pero también de la in-</div>
<div class="bl" style="left:755.0px;top:656.49px;width:229.5px;letter-spacing:0.2px;">versión.</div>
<div class="bj" style="left:755.0px;top:703.89px;width:229.5px;letter-spacing:0.197px;">Para el próximo año, en tanto, el Ejecuti-</div>
<div class="bj" style="left:755.0px;top:719.89px;width:229.5px;letter-spacing:0.193px;">vo recortó las perspectivas desde el 2,9%</div>
<div class="bj" style="left:755.0px;top:735.89px;width:229.5px;letter-spacing:0.179px;">previsto en el Informe de Finanzas Públi-</div>
<div class="bj" style="left:755.0px;top:751.89px;width:229.5px;letter-spacing:0.153px;">cas del segundo trimestre a 2,5%. Esta ci-</div>
<div class="bj" style="left:755.0px;top:767.89px;width:229.5px;letter-spacing:0.155px;">fra se ubica en la parte alta del rango pro-</div>
<div class="bj" style="left:755.0px;top:783.89px;width:229.5px;letter-spacing:0.093px;">yectado por el instituto emisor en septiem-</div>
<div class="bl" style="left:755.0px;top:799.89px;width:229.5px;letter-spacing:0.2px;">bre de entre 1,5% y 2,5%.</div>
<div class="bj" style="left:763.0px;top:815.89px;width:221.5px;letter-spacing:0.202px;">El erario fiscal contempla una caída del</div>
<div class="bj" style="left:755.0px;top:831.89px;width:229.5px;letter-spacing:0.165px;">gasto público de 22,5% en comparación a</div>
<div class="bj" style="left:755.0px;top:847.89px;width:229.5px;letter-spacing:0.072px;">la ejecución proyectada para este año. Esto</div>
<div class="bj" style="left:755.0px;top:863.89px;width:229.5px;letter-spacing:0.350px;">en monto significa que se pasará de un</div>
<div class="bj" style="left:755.0px;top:879.89px;width:229.5px;letter-spacing:0.261px;">gasto de US$ 105.854 millones a uno de</div>
<div class="bj" style="left:755.0px;top:895.89px;width:229.5px;letter-spacing:0.093px;">US$82.135 millones. El jefe de la billetera</div>
<div class="bj" style="left:755.0px;top:911.89px;width:229.5px;letter-spacing:-0.068px;">fiscal señaló que la contracción del gasto era</div>
<div class="bl" style="left:755.0px;top:927.89px;width:229.5px;letter-spacing:0.2px;">para no sobrecalentar la economía.</div>
<div class="bj" style="left:763.0px;top:943.89px;width:221.5px;letter-spacing:0.350px;">Si se compara con la ley aprobada en</div>
<div class="bj" style="left:755.0px;top:959.89px;width:229.5px;letter-spacing:-0.037px;">2021, hay un alza del gasto del 3,7%. Así, el</div>
<div class="bj" style="left:755.0px;top:975.89px;width:229.5px;letter-spacing:0.025px;">déficit fiscal estructural pasará del 11,5% al</div>
<div class="bj" style="left:755.0px;top:991.89px;width:229.5px;letter-spacing:0.143px;">3,9% del PIB, en un esfuerzo por volver a</div>
<div class="bl" style="left:755.0px;top:1007.89px;width:229.5px;letter-spacing:0.2px;">la senda de consolidación fiscal.</div>
<div class="bj" style="left:763.0px;top:1023.89px;width:221.5px;letter-spacing:0.262px;">Para la demanda interna, la proyección</div>
<div class="bj" style="left:755.0px;top:1039.89px;width:229.5px;letter-spacing:-0.259px;">pasó de 2,6% a 1,7%. El precio del cobre tuvo</div>
<div class="bj" style="left:755.0px;top:1055.89px;width:229.5px;letter-spacing:0.345px;">mejor suerte, ya que Hacienda elevó su</div>
<div class="bj" style="left:755.0px;top:1071.89px;width:229.5px;letter-spacing:0.056px;">previsión para 2022 desde US$3,95 la libra</div>
<div class="fuente">FUENTE: Hacienda, Dipres</div>
<div class="byline">CARLOS ALONSO</div>
<div class="sub">PERSPECTIVAS PARA 2022</div>
<div class="sigue">SIGUE</div><div class="tri" style="left:964.5px"></div><div class="tri" style="left:975px"></div>
</body></html>
